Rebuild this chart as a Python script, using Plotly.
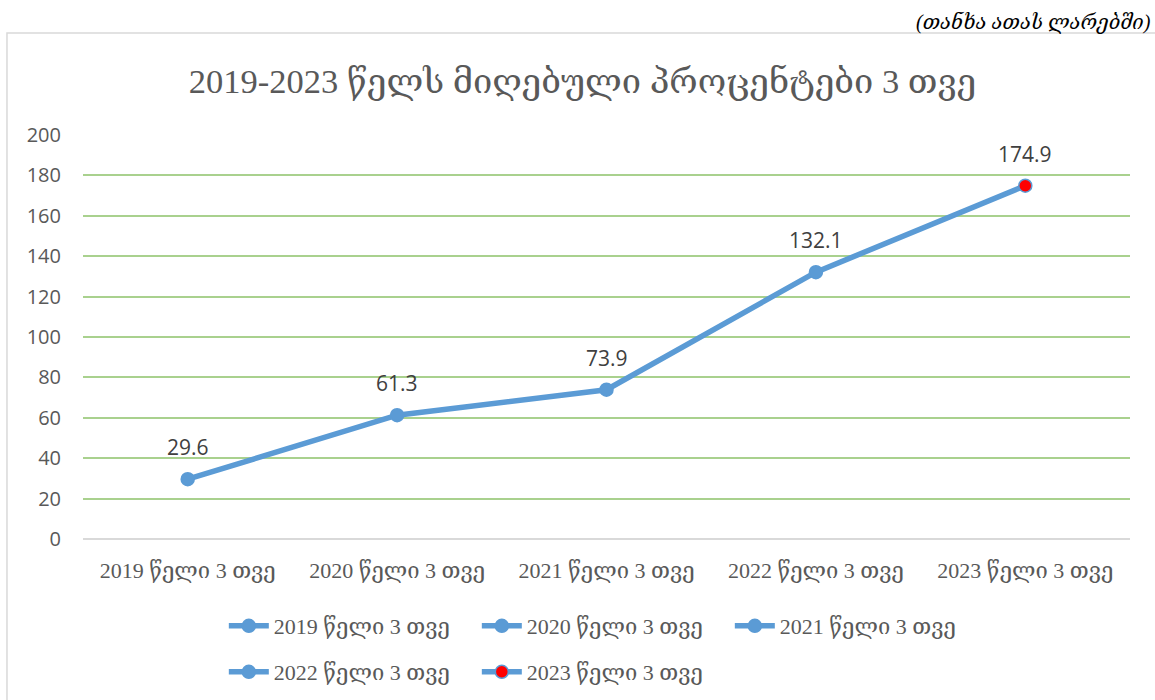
import plotly.graph_objects as go

categories = ["2019 წელი 3 თვე", "2020 წელი 3 თვე", "2021 წელი 3 თვე",
              "2022 წელი 3 თვე", "2023 წელი 3 თვე"]
values = [29.6, 61.3, 73.9, 132.1, 174.9]
point_colors = ["#5b9bd5", "#5b9bd5", "#5b9bd5", "#5b9bd5", "#ff0000"]
legend_rows = ["legend", "legend", "legend", "legend2", "legend2"]
y_ticks = [0, 20, 40, 60, 80, 100, 120, 140, 160, 180, 200]

title = "2019-2023 წელს მიღებული პროცენტები 3 თვე"
unit_note = "(თანხა ათას ლარებში)"

LINE = "#5b9bd5"
SERIF = "Liberation Serif, DejaVu Serif, serif"
SANS = "Open Sans, Liberation Sans, sans-serif"

fig = go.Figure()

# the connecting line, no legend entry
fig.add_trace(go.Scatter(
    x=categories, y=values, mode="lines",
    line=dict(color=LINE, width=5.5), showlegend=False, hoverinfo="skip",
))

# one legend entry per point (Excel "vary colors by point")
for cat, val, col, lg in zip(categories, values, point_colors, legend_rows):
    fig.add_trace(go.Scatter(
        x=[cat], y=[val], mode="lines+markers", name=cat, legend=lg,
        line=dict(color=LINE, width=5.5),
        marker=dict(color=col, size=13, line=dict(color=LINE, width=1.5)),
    ))

for cat, val in zip(categories, values):
    fig.add_annotation(
        x=cat, y=val, text=f"{val:.1f}", showarrow=False, yshift=32,
        font=dict(family=SANS, size=21, color="#404040"),
    )

fig.add_annotation(
    xref="paper", yref="paper", x=1.0, y=1.0, xanchor="right", yanchor="middle",
    text=f"<i>{unit_note}</i>", showarrow=False, yshift=113, xshift=23,
    font=dict(family=SERIF, size=20, color="#000000"),
)

# chart frame
fig.add_shape(type="rect", xref="paper", yref="paper", x0=-0.0726, x1=1.2, y0=-0.6, y1=1.2525,
              line=dict(color="#d9d9d9", width=1.5), fillcolor="rgba(0,0,0,0)", layer="below")

legend_style = dict(
    orientation="h", xanchor="left", yanchor="middle", yref="container",
    entrywidth=198, itemwidth=40, bgcolor="rgba(0,0,0,0)",
    font=dict(family=SERIF, size=22, color="#595959"),
)

fig.update_layout(
    width=1155, height=700,
    margin=dict(l=83, r=25, t=135, b=161, autoexpand=False),
    paper_bgcolor="white", plot_bgcolor="white",
    title=dict(text=title, x=0.5043, xanchor="center", y=0.885, yanchor="middle",
               font=dict(family=SERIF, size=34.5, color="#595959")),
    xaxis=dict(
        type="category", range=[-0.5, 4.5], showgrid=False, zeroline=False,
        showline=False, ticks="", ticklabelstandoff=16,
        tickfont=dict(family=SERIF, size=22, color="#595959"),
    ),
    yaxis=dict(
        range=[0, 200], tickvals=y_ticks, showgrid=True, gridcolor="#a9d18e",
        gridwidth=1.5, zeroline=True, zerolinecolor="#d9d9d9", zerolinewidth=1.5,
        showline=False, ticks="", ticklabelstandoff=21,
        tickfont=dict(family=SANS, size=20, color="#595959"),
    ),
    legend=dict(x=0.1345, y=0.1057, **legend_style),
    legend2=dict(x=0.1345, y=0.04, **legend_style),
)

fig.write_html("out.html", config={"displayModeBar": False},
               post_script="document.body.style.margin='0';")
